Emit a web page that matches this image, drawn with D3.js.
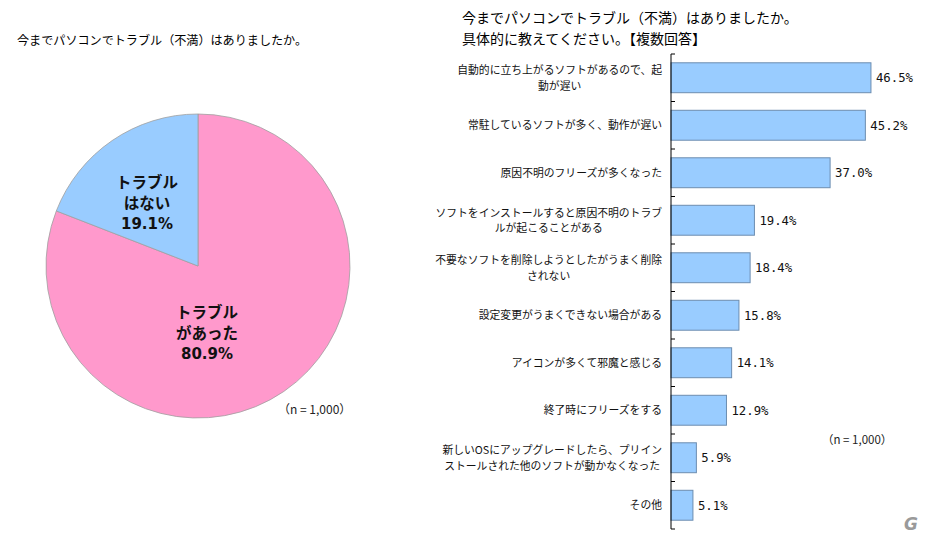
<!DOCTYPE html>
<html><head><meta charset="utf-8">
<script src="https://cdn.jsdelivr.net/npm/d3@7"></script>
<style>body{margin:0;background:#fff;}svg{display:block;}</style>
</head><body>
<script>
const pieTitle = "今までパソコンでトラブル（不満）はありましたか。";
const barTitle = ["今までパソコンでトラブル（不満）はありましたか。", "具体的に教えてください。【複数回答】"];
const pieLabels = [["トラブル","があった"], ["トラブル","はない"]];
const pieValues = [80.9, 19.1];
const pieColors = ["#FF99CC", "#99CCFF"];
const barCategories = [
  ["自動的に立ち上がるソフトがあるので、起","動が遅い"],
  ["常駐しているソフトが多く、動作が遅い"],
  ["原因不明のフリーズが多くなった"],
  ["ソフトをインストールすると原因不明のトラブ","ルが起こることがある"],
  ["不要なソフトを削除しようとしたがうまく削除","されない"],
  ["設定変更がうまくできない場合がある"],
  ["アイコンが多くて邪魔と感じる"],
  ["終了時にフリーズをする"],
  ["新しいOSにアップグレードしたら、プリイン","ストールされた他のソフトが動かなくなった"],
  ["その他"]
];
const barValues = [46.5, 45.2, 37.0, 19.4, 18.4, 15.8, 14.1, 12.9, 5.9, 5.1];
const sampleNote = "（n = 1,000）";

const W = 930, H = 537;
const jp = "'Noto Sans CJK JP', sans-serif";
const svg = d3.select("body").append("svg").attr("width", W).attr("height", H);

// ---- Pie ----
svg.append("text").attr("x", 17).attr("y", 45).attr("font-family", jp)
  .attr("font-size", 12.1).attr("fill", "#000").text(pieTitle);

const cx = 198, cy = 266, R = 152;
const pie = d3.pie().sort(null).value(d => d);
const arcs = pie(pieValues);
const arc = d3.arc().innerRadius(0).outerRadius(R);
const gp = svg.append("g").attr("transform", `translate(${cx},${cy})`);
gp.selectAll("path").data(arcs).join("path")
  .attr("d", arc).attr("fill", (d, i) => pieColors[i])
  .attr("stroke", "#a0a0a0").attr("stroke-width", 0.8);

const labelPos = [[9, 52], [-51, -78]];
arcs.forEach((a, i) => {
  const lines = [...pieLabels[i], d3.format(".1f")(pieValues[i]) + "%"];
  const t = gp.append("text").attr("text-anchor", "middle")
    .attr("font-family", jp).attr("font-weight", "bold").attr("font-size", 15.5).attr("fill", "#111");
  lines.forEach((l, j) => {
    t.append("tspan").attr("x", labelPos[i][0]).attr("y", labelPos[i][1] + j * 20.5)
      .attr("font-family", j === 2 ? "'DejaVu Sans', sans-serif" : jp)
      .attr("font-size", j === 2 ? 15 : 15.5)
      .text(l);
  });
});
svg.append("text").attr("x", 278).attr("y", 414).attr("font-family", jp)
  .attr("font-size", 12).attr("fill", "#222").text(sampleNote);

// ---- Bars ----
barTitle.forEach((l, i) => {
  svg.append("text").attr("x", 462).attr("y", 23 + i * 21).attr("font-family", jp)
    .attr("font-size", 14).attr("fill", "#000").text(l);
});

const x = d3.scaleLinear().domain([0, 50]).range([671, 886]);
const y = d3.scaleBand().domain(d3.range(barCategories.length)).range([54, 529]).paddingInner(0.37).paddingOuter(0.185);
const yb = d3.scaleBand().domain(d3.range(barCategories.length)).range([54, 529]);

svg.append("g").selectAll("rect").data(barValues).join("rect")
  .attr("x", x(0)).attr("y", (d, i) => y(i))
  .attr("width", d => x(d) - x(0)).attr("height", y.bandwidth())
  .attr("fill", "#99CCFF").attr("stroke", "#6C8DB0").attr("stroke-width", 1);

// axis
const ax = svg.append("g").attr("stroke", "#000").attr("stroke-width", 1);
ax.append("line").attr("x1", x(0)).attr("x2", x(0)).attr("y1", 54).attr("y2", 529);
ax.selectAll("line.tk").data(d3.range(barCategories.length + 1)).join("line").attr("class", "tk")
  .attr("x1", x(0)).attr("x2", x(0) + 4)
  .attr("y1", i => i < barCategories.length ? yb(i) : 529)
  .attr("y2", i => i < barCategories.length ? yb(i) : 529);

// category labels
barCategories.forEach((lines, i) => {
  const c = yb(i) + yb.bandwidth() / 2;
  const fs = 10.8;
  if (lines.length === 1) {
    svg.append("text").attr("x", 662).attr("y", c + 4).attr("text-anchor", "end")
      .attr("font-family", jp).attr("font-size", fs).attr("fill", "#111").text(lines[0]);
  } else {
    const t1 = svg.append("text").attr("x", 662).attr("y", c - 3.5).attr("text-anchor", "end")
      .attr("font-family", jp).attr("font-size", fs).attr("fill", "#111").text(lines[0]);
    const w = t1.node().getComputedTextLength();
    svg.append("text").attr("x", 662 - w / 2).attr("y", c + 12).attr("text-anchor", "middle")
      .attr("font-family", jp).attr("font-size", fs).attr("fill", "#111").text(lines[1]);
  }
});

// value labels
svg.append("g").selectAll("text").data(barValues).join("text")
  .attr("x", d => x(d) + 5).attr("y", (d, i) => yb(i) + yb.bandwidth() / 2 + 4.5)
  .attr("font-family", "'DejaVu Sans Mono', monospace").attr("font-size", 12.3).attr("fill", "#111")
  .text(d => d3.format(".1f")(d) + "%");

svg.append("text").attr("x", 822).attr("y", 444).attr("font-family", jp)
  .attr("font-size", 11.5).attr("fill", "#222").text(sampleNote);

// watermark
svg.append("text").attr("x", 904).attr("y", 530).attr("font-family", "'DejaVu Sans', sans-serif")
  .attr("font-size", 17).attr("font-weight", "bold").attr("font-style", "italic").attr("fill", "#9a9a9a").text("G");
</script>
</body></html>
